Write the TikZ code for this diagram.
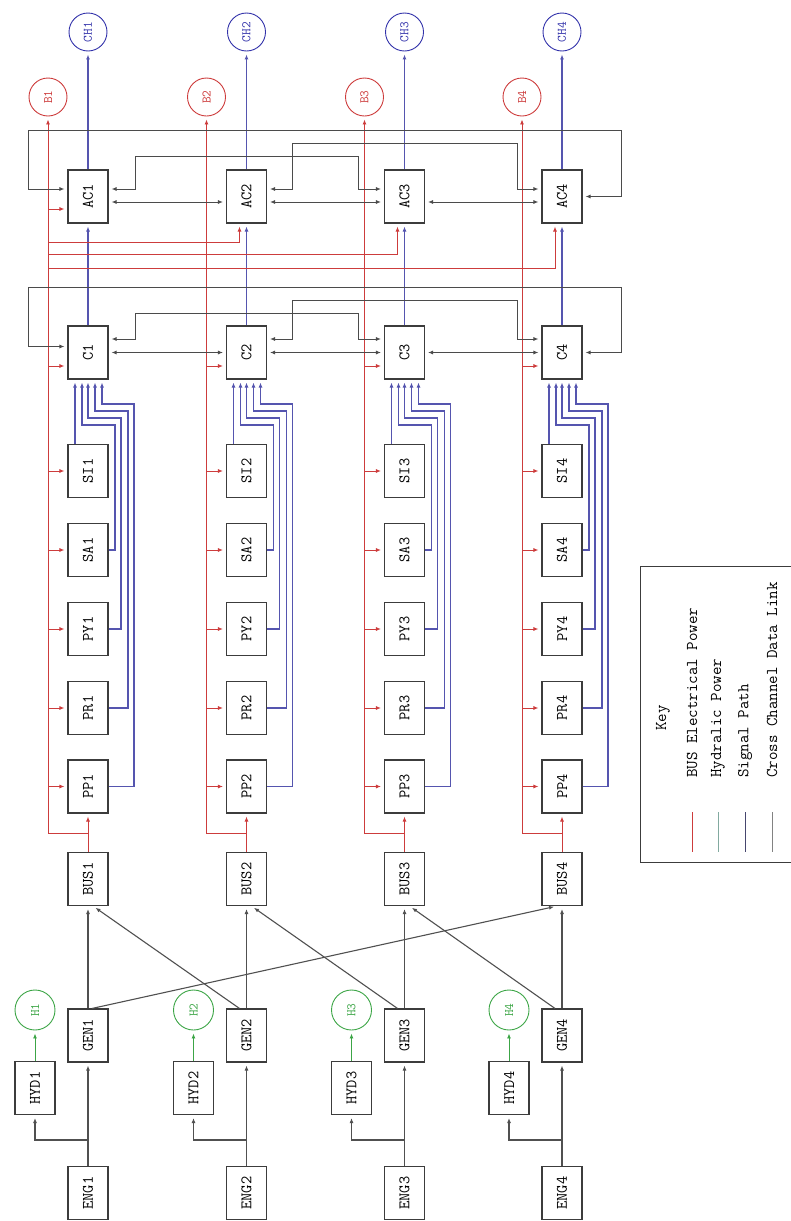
\documentclass[tikz,border=0pt]{standalone}
\usepackage{fontspec}
\usetikzlibrary{arrows.meta,calc}
\definecolor{redc}{RGB}{205,60,60}
\definecolor{bluec}{RGB}{85,85,175}
\definecolor{bluet}{RGB}{50,50,170}
\definecolor{greenc}{RGB}{60,165,70}
\definecolor{boxc}{RGB}{60,60,60}
\definecolor{linkc}{RGB}{75,75,75}
\definecolor{powc}{RGB}{80,80,80}
\definecolor{hydk}{RGB}{130,170,160}
\definecolor{sigk}{RGB}{70,70,110}
\definecolor{crossk}{RGB}{130,130,130}
\newcommand\bxfont{\ttfamily\fontsize{16}{18}\selectfont}
\newcommand\crfont{\ttfamily\fontsize{13}{15}\selectfont}
\newcommand\kyfont{\ttfamily\fontsize{16.5}{19}\selectfont}
\tikzset{
  blk/.style={draw=boxc, line width=1.1pt, rectangle, minimum width=40pt, minimum height=53pt, inner sep=0pt, font=\bxfont, fill=white},
  circr/.style={circle, draw=redc, text=redc, line width=0.9pt, minimum size=38pt, inner sep=0pt, font=\crfont},
  circb/.style={circle, draw=bluet, text=bluet, line width=0.9pt, minimum size=38pt, inner sep=0pt, font=\crfont},
  circg/.style={circle, draw=greenc, text=greenc, line width=0.9pt, minimum size=40pt, inner sep=0pt, font=\crfont},
  arr/.style={-{Latex[length=5pt,width=4pt]}, shorten >=3pt},
  arrb/.style={{Latex[length=5pt,width=4pt]}-{Latex[length=5pt,width=4pt]}, shorten >=3pt, shorten <=3pt},
  redl/.style={draw=redc, line width=0.9pt},
  bluel/.style={draw=bluec, line width=1.2pt},
  greenl/.style={draw=greenc, line width=0.9pt},
  linkl/.style={draw=linkc, line width=0.9pt},
  powl/.style={draw=powc, line width=1.1pt},
}
\begin{document}
\begin{tikzpicture}[x=1pt,y=-1pt]
\useasboundingbox (0,0) rectangle (790,1221);
\foreach \i/\c in {1/88,2/246.5,3/404.5,4/562}{
  \node[circb] (CH\i) at (\c,32) {\rotatebox{90}{CH\i}};
  \node[circr] (B\i) at (\c-40,97) {\rotatebox{90}{B\i}};
  \node[blk] (AC\i) at (\c,196.5) {\rotatebox{90}{AC\i}};
  \node[blk] (C\i) at (\c,352.5) {\rotatebox{90}{C\i}};
  \node[blk] (SI\i) at (\c,471) {\rotatebox{90}{SI\i}};
  \node[blk] (SA\i) at (\c,550) {\rotatebox{90}{SA\i}};
  \node[blk] (PY\i) at (\c,629) {\rotatebox{90}{PY\i}};
  \node[blk] (PR\i) at (\c,708) {\rotatebox{90}{PR\i}};
  \node[blk] (PP\i) at (\c,786.5) {\rotatebox{90}{PP\i}};
  \node[blk] (BUS\i) at (\c,879) {\rotatebox{90}{BUS\i}};
  \node[blk] (GEN\i) at (\c,1035.5) {\rotatebox{90}{GEN\i}};
  \node[blk] (HYD\i) at (\c-53,1088) {\rotatebox{90}{HYD\i}};
  \node[circg] (H\i) at (\c-53,1010) {\rotatebox{90}{H\i}};
  \node[blk] (ENG\i) at (\c,1193) {\rotatebox{90}{ENG\i}};
  % electrical
  \draw[redl,arr] (BUS\i.north) -- (PP\i.south);
  \draw[redl,arr] (\c,833) -| (B\i.south);
  \foreach \n in {PP,PR,PY,SA,SI}{
    \draw[redl,arr] (B\i |- \n\i) -- (\n\i.west);
  }
  \coordinate (cr\i) at ([yshift=-13.5pt]C\i.west);
  \draw[redl,arr] (cr\i -| B\i) -- (cr\i);
  % signal
  \draw[bluel,arr] (C\i.north) -- (AC\i.south);
  \draw[bluel,arr] (AC\i.north) -- (CH\i.south);
  \draw[bluel,arr] ([xshift=-13pt]SI\i.north) -- ([xshift=-13pt]C\i.south);
  \draw[bluel,arr] (SA\i.east) -| (\c+27,425) -| ([xshift=-6pt]C\i.south);
  \draw[bluel,arr] (PY\i.east) -| (\c+33,418) -| (C\i.south);
  \draw[bluel,arr] (PR\i.east) -| (\c+40,411) -| ([xshift=7pt]C\i.south);
  \draw[bluel,arr] (PP\i.east) -| (\c+46,404) -| ([xshift=14pt]C\i.south);
  % hydraulic and mechanical
  \draw[greenl,arr] (HYD\i.north) -- (H\i.south);
  \draw[powl,arr] (ENG\i.north) -- (GEN\i.south);
  \draw[powl,arr] (\c,1140) -| (HYD\i.south);
  \draw[powl,arr] (GEN\i.north) -- (BUS\i.south);
}
% generator cross feeds
\draw[powl,arr] ([xshift=-7pt]GEN2.north) -- ([xshift=5pt]BUS1.south);
\draw[powl,arr] ([xshift=-7pt]GEN3.north) -- ([xshift=5pt]BUS2.south);
\draw[powl,arr] ([xshift=-7pt]GEN4.north) -- ([xshift=5pt]BUS3.south);
\draw[powl,arr] ([xshift=4pt]GEN1.north) -- ([xshift=-5pt]BUS4.south);
% AC power from bus 1
\coordinate (acr) at ([yshift=-12.5pt]AC1.west);
\draw[redl,arr] (acr -| B1) -- (acr);
\draw[redl,arr] (B1 |- 0,242) -| ([xshift=-7pt]AC2.south);
\draw[redl,arr] (B1 |- 0,254) -| ([xshift=-7pt]AC3.south);
\draw[redl,arr] (B1 |- 0,268) -| ([xshift=-7pt]AC4.south);
% cross channel links, C row
\draw[linkl,arrb] ([yshift=6pt]C1.west) -| (28,287) -- (621,287) |- (C4.east);
\draw[linkl,arrb] ([yshift=13.5pt]C1.east) -| (135,313) -| (358,339) -- ([yshift=13.5pt]C3.west);
\draw[linkl,arrb] ([yshift=13.5pt]C2.east) -| (292,300) -| (517,339) -- ([yshift=13.5pt]C4.west);
\draw[linkl,arrb] (C1.east) -- (C2.west);
\draw[linkl,arrb] (C2.east) -- (C3.west);
\draw[linkl,arrb] (C3.east) -- (C4.west);
% cross channel links, AC row
\draw[linkl,arrb] ([yshift=7.5pt]AC1.west) -| (28,130) -- (621,130) |- (AC4.east);
\draw[linkl,arrb] ([yshift=7.5pt]AC1.east) -| (135,156) -| (358,189) -- ([yshift=7.5pt]AC3.west);
\draw[linkl,arrb] ([yshift=7.5pt]AC2.east) -| (292,143) -| (517,189) -- ([yshift=7.5pt]AC4.west);
\draw[linkl,arrb] ([yshift=-5.5pt]AC1.east) -- ([yshift=-5.5pt]AC2.west);
\draw[linkl,arrb] ([yshift=-5.5pt]AC2.east) -- ([yshift=-5.5pt]AC3.west);
\draw[linkl,arrb] ([yshift=-5.5pt]AC3.east) -- ([yshift=-5.5pt]AC4.west);
% key
\node[draw=boxc, line width=1pt, rectangle, minimum width=160pt, minimum height=296pt, inner sep=0pt, anchor=north west] (key) at (640,566) {};
\node[rotate=90, font=\kyfont] (keyt) at (663,718) {Key};
\draw[redc, line width=0.9pt] (692,812) -- (692,852);
\draw[hydk, line width=0.9pt] (718,812) -- (718,852);
\draw[sigk, line width=0.9pt] (745,812) -- (745,852);
\draw[crossk, line width=0.9pt] (772,812) -- (772,852);
\node[rotate=90, anchor=west, font=\kyfont, inner sep=0pt] (k1) at (692,778) {BUS Electrical Power};
\node[rotate=90, anchor=west, font=\kyfont, inner sep=0pt] (k2) at (718,778) {Hydralic Power};
\node[rotate=90, anchor=west, font=\kyfont, inner sep=0pt] (k3) at (745,778) {Signal Path};
\node[rotate=90, anchor=west, font=\kyfont, inner sep=0pt] (k4) at (772,778) {Cross Channel Data Link};
\end{tikzpicture}
\end{document}
